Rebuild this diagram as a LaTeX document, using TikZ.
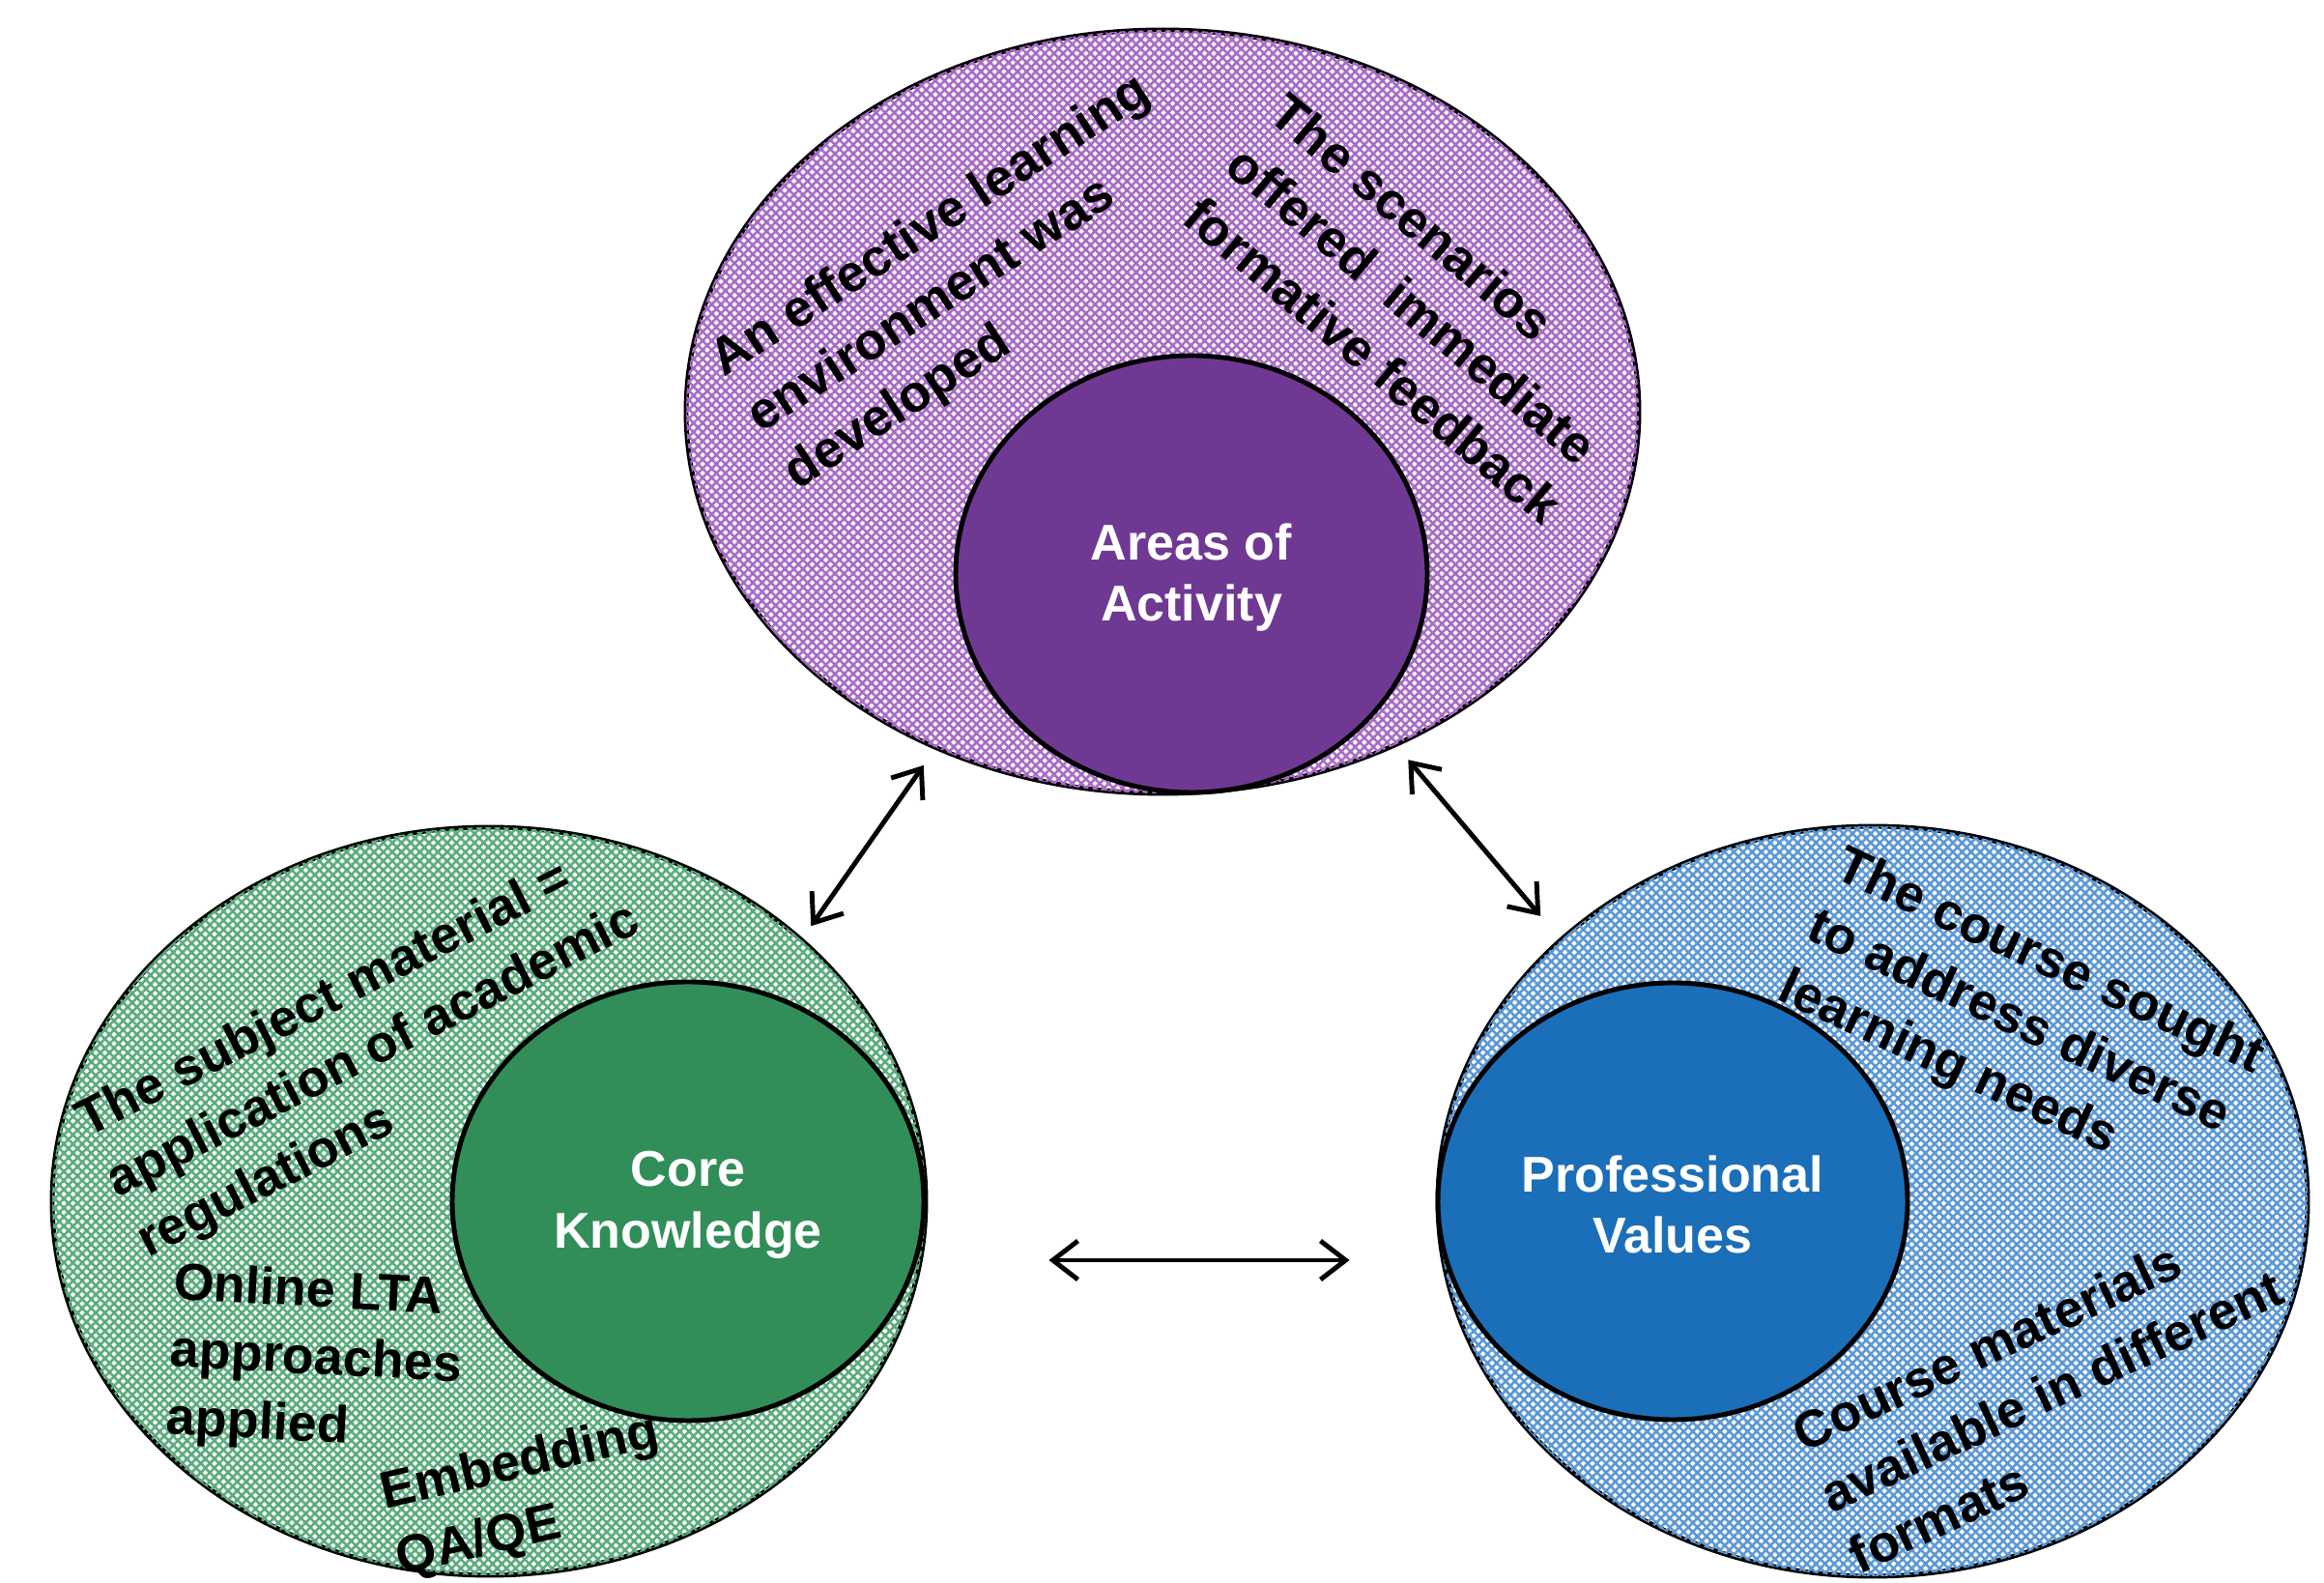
\documentclass[tikz,border=0pt]{standalone}
\usepackage{fontspec}
\setmainfont{Liberation Sans}
\usetikzlibrary{arrows.meta,calc,positioning,shapes.geometric,patterns.meta}

\definecolor{areascol}{RGB}{111,56,147}
\definecolor{corecol}{RGB}{49,142,88}
\definecolor{profcol}{RGB}{27,110,184}
\definecolor{areasmesh}{RGB}{168,108,198}
\definecolor{coremesh}{RGB}{92,172,126}
\definecolor{profmesh}{RGB}{92,152,212}

\begin{document}
\begin{tikzpicture}[x=1cm,y=1cm,
  outer/.style={ellipse,draw,line width=1.4pt,inner sep=0pt,fill=white,
    postaction={pattern={Hatch[angle=45,distance=1.9pt,line width=0.75pt]},pattern color=#1}},
  inner/.style={ellipse,draw,line width=1.4pt,inner sep=0pt,fill=#1,text=white,
    align=center,font=\bfseries\fontsize{14.8}{18}\selectfont},
  remark/.style={align=left,inner sep=0pt,font=\bfseries\fontsize{15.3}{19.8}\selectfont},
  both/.style={line width=1.4pt,{Straight Barb[length=2.6mm,width=4mm]}-{Straight Barb[length=2.6mm,width=4mm]}}]
 \useasboundingbox (0,0) rectangle (24.05,16.37);
 % areas of activity
 \node[outer=areasmesh,minimum width=9.86cm,minimum height=7.9cm] (areas) at (12.03,12.11) {};
 \node[inner=areascol,minimum width=4.88cm,minimum height=4.52cm] (areasIn) at (12.33,10.43) {\strut Areas of\\Activity};
 \node[remark,rotate=33] (envt) at (10.02,13.44) {An effective learning\\environment was\\developed};
 \node[remark,rotate=-40] (scen) at (14.66,13.18) {The scenarios\\offered\ \ immediate\\formative feedback};
 % core knowledge
 \node[outer=coremesh,minimum width=9.04cm,minimum height=7.74cm] (core) at (5.06,3.94) {};
 \node[inner=corecol,minimum width=4.88cm,minimum height=4.54cm] (coreIn) at (7.12,3.94) {\strut Core\\Knowledge};
 \node[remark,rotate=27] (subj) at (3.87,5.48) {The subject material =\\application of academic\\regulations};
 \node[remark,rotate=-3] (lta) at (3.27,2.29) {Online LTA\\approaches\\applied};
 \node[remark,rotate=13] (qa) at (5.46,0.88) {Embedding\\QA/QE};
 % professional values
 \node[outer=profmesh,minimum width=9.0cm,minimum height=7.76cm] (prof) at (19.38,3.94) {};
 \node[inner=profcol,minimum width=4.86cm,minimum height=4.52cm] (profIn) at (17.31,3.94) {\strut Professional\\Values};
 \node[remark,rotate=-25] (needs) at (20.91,5.77) {The course sought\\to address diverse\\learning needs};
 \node[remark,rotate=25] (fmts) at (21.23,1.98) {Course materials\\available in different\\formats};
 % links between the three areas
 \draw[both,shorten <=1.5mm,shorten >=2mm] (core.40) -- (areas.236);
 \draw[both,shorten <=1.8mm,shorten >=3mm] (areas.305) -- (prof.140.6);
 \draw[both,shorten <=12.5mm,shorten >=8.9mm] ([yshift=-6.1mm]core.east) -- ([yshift=-6.1mm]prof.west);
\end{tikzpicture}
\end{document}
